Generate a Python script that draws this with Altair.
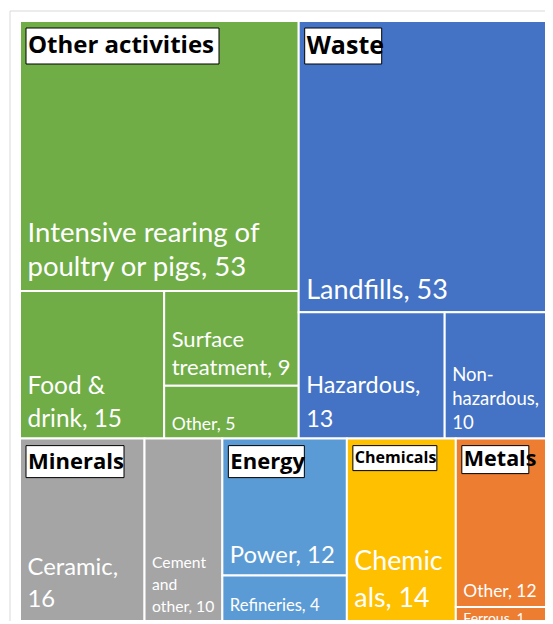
import altair as alt
import pandas as pd

# ---------------- data ----------------
group_names = ["Other activities", "Waste", "Minerals", "Energy", "Chemicals", "Metals"]
group_colors = ["#70AD47", "#4472C4", "#A5A5A5", "#5B9BD5", "#FFC000", "#ED7D31"]

leaf_group = ["Other activities", "Other activities", "Other activities", "Other activities",
              "Waste", "Waste", "Waste",
              "Minerals", "Minerals",
              "Energy", "Energy",
              "Chemicals",
              "Metals", "Metals"]
leaf_names = ["Intensive rearing of poultry or pigs", "Food & drink", "Surface treatment", "Other",
              "Landfills", "Hazardous", "Non-hazardous",
              "Ceramic", "Cement and other",
              "Power", "Refineries",
              "Chemicals",
              "Other", "Ferrous"]
leaf_values = [53, 15, 9, 5, 53, 13, 10, 16, 10, 12, 4, 14, 12, 1]
leaf_labels = ["Intensive rearing of\npoultry or pigs, 53", "Food &\ndrink, 15", "Surface\ntreatment, 9", "Other, 5",
               "Landfills, 53", "Hazardous,\n13", "Non-\nhazardous,\n10",
               "Ceramic,\n16", "Cement\nand\nother, 10",
               "Power, 12", "Refineries, 4",
               "Chemic\nals, 14",
               "Other, 12", "Ferrous, 1"]

# ---------------- styles ----------------
leaf_font = [27.5, 24.4, 22, 17.6, 27, 23.4, 18.5, 23.8, 15.7, 23.8, 16.6, 26.8, 17.4, 14]
leaf_line = [33.4, 32.7, 28.3, 22, 34, 33.3, 24, 31.7, 22, 30, 22, 36.7, 22, 18]
leaf_pad = [15.3, 12, 11, 9, 13, 12, 10, 14, 9, 12, 10, 14, 10, -2]
head_font = [24, 25, 22, 22, 16, 21.5]
head_box_w = [193, 77, 98, 76, 84, 67]
head_box_h = [36, 36, 32, 32, 25, 28]

LAYOUT_W, LAYOUT_H = 537, 600
VIEW_W, VIEW_H = 525, 600


def worst(row, side):
    s = sum(row)
    return max(max(side * side * r / (s * s), (s * s) / (side * side * r)) for r in row)


def squarify(areas, x, y, w, h):
    rects = []
    areas = list(areas)
    while areas:
        side = min(w, h)
        row = [areas[0]]
        i = 1
        while i < len(areas) and worst(row + [areas[i]], side) <= worst(row, side):
            row.append(areas[i])
            i += 1
        s = sum(row)
        if w >= h:
            cw = s / h
            yy = y
            for a in row:
                rects.append((x, yy, x + cw, yy + a / cw))
                yy += a / cw
            x += cw
            w -= cw
        else:
            rh = s / w
            xx = x
            for a in row:
                rects.append((xx, y, xx + a / rh, y + rh))
                xx += a / rh
            y += rh
            h -= rh
        areas = areas[i:]
    return rects


totals = [sum(v for g, v in zip(leaf_group, leaf_values) if g == name) for name in group_names]
grand = sum(totals)
g_rects = squarify([t / grand * LAYOUT_W * LAYOUT_H for t in totals], 0, 0, LAYOUT_W, LAYOUT_H)

leaf_rows = []
for gi, name in enumerate(group_names):
    gx0, gy0, gx1, gy1 = g_rects[gi]
    idx = [i for i, g in enumerate(leaf_group) if g == name]
    garea = (gx1 - gx0) * (gy1 - gy0)
    rs = squarify([leaf_values[i] / totals[gi] * garea for i in idx], gx0, gy0, gx1 - gx0, gy1 - gy0)
    for i, (x0, y0, x1, y1) in zip(idx, rs):
        nlines = leaf_labels[i].count("\n") + 1
        leaf_rows.append(dict(group=name, name=leaf_names[i], value=leaf_values[i], label=leaf_labels[i],
                              x0=x0, y0=y0, x1=x1, y1=y1,
                              tx=x0 + 7.5, ty=y1 - leaf_pad[i] - (nlines - 1) * leaf_line[i],
                              fs=leaf_font[i], lh=leaf_line[i]))
leaves = pd.DataFrame(leaf_rows)

head_rows = []
for gi, name in enumerate(group_names):
    gx0, gy0, gx1, gy1 = g_rects[gi]
    head_rows.append(dict(group=name, bx0=gx0 + 6, bx1=gx0 + 6 + head_box_w[gi],
                          by0=gy0 + 7, by1=gy0 + 7 + head_box_h[gi],
                          tx=gx0 + 8, ty=gy0 + 7 + head_box_h[gi] / 2, fs=head_font[gi]))
heads = pd.DataFrame(head_rows)

xs = alt.Scale(domain=[0, VIEW_W], nice=False, zero=False)
ys = alt.Scale(domain=[0, VIEW_H], nice=False, zero=False, reverse=True)
color = alt.Color("group:N", scale=alt.Scale(domain=group_names, range=group_colors), legend=None)

frame = alt.Chart(pd.DataFrame({"a": [0]})).mark_rect(
    fillOpacity=0, stroke="#D9D9D9", strokeWidth=1
).encode(x=alt.value(-10), x2=alt.value(700), y=alt.value(-10), y2=alt.value(800))

cells = alt.Chart(leaves).mark_rect(stroke="white", strokeWidth=2, clip=True).encode(
    x=alt.X("x0:Q", scale=xs, axis=None), x2="x1:Q",
    y=alt.Y("y0:Q", scale=ys, axis=None), y2="y1:Q",
    color=color,
)

labels = alt.Chart(leaves).mark_text(
    align="left", baseline="alphabetic", color="white", font="Lato",
    lineBreak="\n", lineHeight={"expr": "datum.lh"}, clip=True
).encode(
    x=alt.X("tx:Q", scale=xs, axis=None),
    y=alt.Y("ty:Q", scale=ys, axis=None),
    text="label:N",
    size=alt.Size("fs:Q", scale=None, legend=None),
)

boxes = alt.Chart(heads).mark_rect(fill="white", stroke="black", strokeWidth=1).encode(
    x=alt.X("bx0:Q", scale=xs, axis=None), x2="bx1:Q",
    y=alt.Y("by0:Q", scale=ys, axis=None), y2="by1:Q",
)

head_text = alt.Chart(heads).mark_text(
    align="left", baseline="middle", color="black", font="Open Sans", fontWeight="bold"
).encode(
    x=alt.X("tx:Q", scale=xs, axis=None),
    y=alt.Y("ty:Q", scale=ys, axis=None),
    text="group:N",
    size=alt.Size("fs:Q", scale=None, legend=None),
)

chart = alt.layer(frame, cells, labels, boxes, head_text).properties(
    width=VIEW_W, height=VIEW_H,
    padding={"left": 12, "top": 13, "right": 0, "bottom": 0},
    autosize=alt.AutoSizeParams(type="none"),
    background="white",
).configure_view(stroke=None)

chart.save("out.html", embed_options={"renderer": "svg", "actions": False})
